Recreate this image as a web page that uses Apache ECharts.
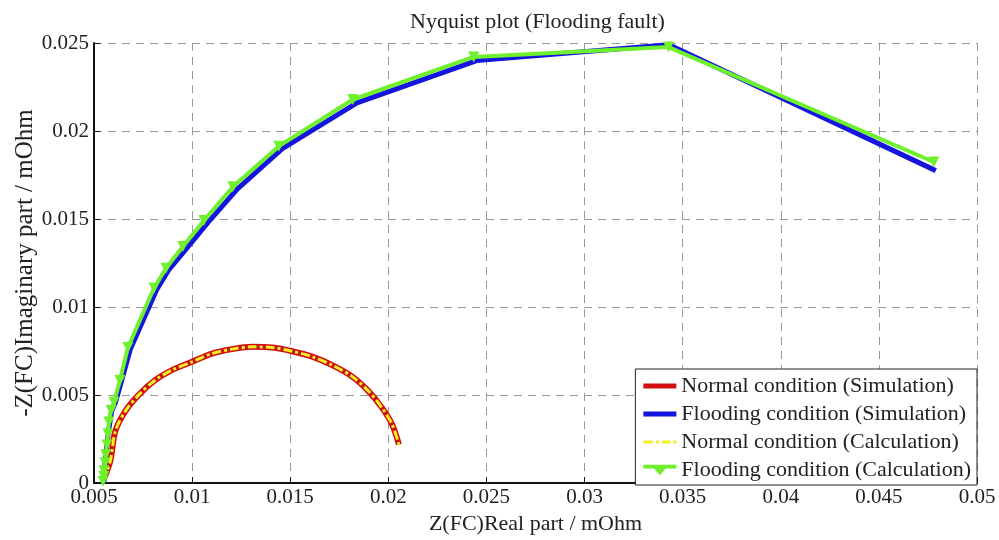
<!DOCTYPE html>
<html>
<head>
<meta charset="utf-8">
<script src="https://cdn.jsdelivr.net/npm/echarts@6/dist/echarts.min.js"></script>
<style>
  html, body { margin: 0; padding: 0; background: #fff; }
  #main { width: 999px; height: 540px; }
</style>
</head>
<body>
<div id="main"></div>
<script>
// 数据：横坐标实部，纵坐标 -虚部
var normalSim = [
    [0.00547, 0.00014], [0.00583, 0.00125], [0.00609, 0.00296], [0.0066, 0.00409],
    [0.00728, 0.00501], [0.00813, 0.00586], [0.00898, 0.00642], [0.0100, 0.00689],
    [0.01102, 0.00736], [0.01204, 0.00761], [0.01306, 0.00774], [0.01408, 0.0077],
    [0.0151, 0.00749], [0.01612, 0.00718], [0.01714, 0.0067], [0.01816, 0.00605],
    [0.01901, 0.0052], [0.01969, 0.00426], [0.0202, 0.00332], [0.02054, 0.00219]
];
var normalCalc = normalSim;
var floodSim = [
    [0.0055, 0.0000], [0.00556, 0.0012], [0.00572, 0.0028], [0.0059, 0.0041],
    [0.0061, 0.0046], [0.0064, 0.0058], [0.00685, 0.0076], [0.0082, 0.0110],
    [0.0088, 0.0121], [0.0097, 0.0133], [0.0108, 0.0148], [0.0123, 0.0167],
    [0.0146, 0.0190], [0.0184, 0.0216], [0.0245, 0.0240], [0.0343, 0.0249],
    [0.0479, 0.01775]
];
var floodCalc = [
    [0.00546, 0.0001], [0.0055, 0.00037], [0.0055, 0.0007], [0.00556, 0.00116],
    [0.0056, 0.00161], [0.00566, 0.00217], [0.00571, 0.00279], [0.00576, 0.00347],
    [0.00587, 0.00414], [0.00602, 0.00459], [0.00632, 0.00583], [0.00673, 0.0077],
    [0.00806, 0.01108], [0.00867, 0.0122], [0.00953, 0.01344], [0.0106, 0.01491],
    [0.01208, 0.01683], [0.01442, 0.01914], [0.01819, 0.02179], [0.02435, 0.02421],
    [0.03428, 0.02477], [0.0478, 0.01824]
];
var names = [
    'Normal condition (Simulation)',
    'Flooding condition (Simulation)',
    'Normal condition (Calculation)',
    'Flooding condition (Calculation)'
];

var font = 'Liberation Serif';
var myChart = echarts.init(document.getElementById('main'));

function tickFmt(v) {
    if (v === 0) return '0';
    return String(+v.toFixed(3));
}

// 图例图标
var iconSolid = 'path://M0,0L34,0L34,5L0,5Z';
var iconDash = 'path://M0,0h10v3h-10zM13,0h3v3h-3zM19,0h9v3h-9zM31,0h3v3h-3z';
var iconTri = 'path://M0,0h34v4h-11l-6,7l-6,-7h-11z';

option = {
    backgroundColor: '#fff',
    animation: false,
    title: {
        text: 'Nyquist plot (Flooding fault)',
        left: 405,
        top: 6,
        textStyle: { fontFamily: font, fontSize: 22, fontWeight: 'normal', color: '#222' }
    },
    grid: { left: 94, right: 22, top: 43, bottom: 55 },
    legend: {
        orient: 'vertical',
        right: 22,
        bottom: 55,
        itemWidth: 33,
        itemHeight: 12,
        itemGap: 6,
        padding: [6, 6, 4, 8],
        backgroundColor: '#fff',
        borderColor: '#222',
        borderWidth: 1,
        borderRadius: 0,
        textStyle: { fontFamily: font, fontSize: 22, color: '#222' },
        data: [
            { name: names[0], icon: iconSolid },
            { name: names[1], icon: iconSolid },
            { name: names[2], icon: iconDash },
            { name: names[3], icon: iconTri }
        ]
    },
    xAxis: {
        type: 'value',
        min: 0.005,
        max: 0.05,
        interval: 0.005,
        name: 'Z(FC)Real part / mOhm',
        nameLocation: 'middle',
        nameGap: 29,
        nameTextStyle: { fontFamily: font, fontSize: 22, color: '#222' },
        axisLine: { lineStyle: { color: '#111', width: 2 } },
        axisTick: { inside: true, length: 6, lineStyle: { color: '#111' } },
        axisLabel: { fontFamily: font, fontSize: 21, color: '#222', margin: 4, formatter: tickFmt },
        splitLine: { show: true, lineStyle: { color: '#999', type: [8, 6], width: 1 } }
    },
    yAxis: {
        type: 'value',
        min: 0,
        max: 0.025,
        interval: 0.005,
        name: '-Z(FC)Imaginary part / mOhm',
        nameLocation: 'middle',
        nameGap: 56,
        nameMoveOverlap: false,
        nameTextStyle: { fontFamily: font, fontSize: 25, color: '#222' },
        axisLine: { lineStyle: { color: '#111', width: 2 } },
        axisTick: { inside: true, length: 6, lineStyle: { color: '#111' } },
        axisLabel: { fontFamily: font, fontSize: 21, color: '#222', margin: 5, formatter: tickFmt },
        splitLine: { show: true, lineStyle: { color: '#999', type: [8, 6], width: 1 } }
    },
    series: [
        {
            name: names[0],
            type: 'line',
            data: normalSim,
            smooth: 0.3,
            showSymbol: false,
            symbol: 'none',
            itemStyle: { color: '#d01010' },
            lineStyle: { color: '#d01010', width: 6 }
        },
        {
            name: names[1],
            type: 'line',
            data: floodSim,
            showSymbol: false,
            symbol: 'none',
            itemStyle: { color: '#1515e0' },
            lineStyle: { color: '#1515e0', width: 5 }
        },
        {
            name: names[2],
            type: 'line',
            data: normalCalc,
            smooth: 0.3,
            showSymbol: false,
            symbol: 'none',
            itemStyle: { color: '#f2f020' },
            lineStyle: { color: '#f2f020', width: 3, type: [9, 3, 3, 3] }
        },
        {
            name: names[3],
            type: 'line',
            data: floodCalc,
            symbol: 'triangle',
            symbolRotate: 180,
            symbolSize: 11,
            itemStyle: { color: '#6ff02c' },
            lineStyle: { color: '#6ff02c', width: 4 }
        }
    ]
};
myChart.setOption(option);
</script>
</body>
</html>
